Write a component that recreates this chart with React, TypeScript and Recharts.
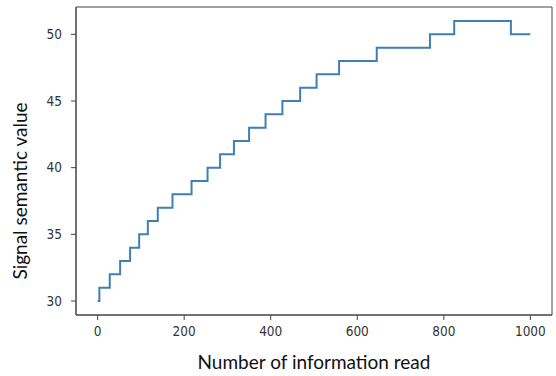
import {
  LineChart,
  Line,
  XAxis,
  YAxis,
  Label,
  ReferenceArea,
} from "recharts";

// step positions (x where the value changes) and values
const stepX = [0, 4, 28, 52, 75, 96, 116, 139, 173, 217, 254, 283, 315, 350, 388, 427, 468, 506, 558, 645, 768, 824, 955, 1000];
const stepY = [30, 31, 32, 33, 34, 35, 36, 37, 38, 39, 40, 41, 42, 43, 44, 45, 46, 47, 48, 49, 50, 51, 50, 50];

const xTicks = [0, 200, 400, 600, 800, 1000];
const yTicks = [30, 35, 40, 45, 50];
const xDomain = [-50, 1050];
const yDomain = [28.95, 52.05];

const data = stepX.map((x, i) => ({ x, value: stepY[i] }));

const axisColor = "#444";
const tickStyle = { fontFamily: "DejaVu Sans Condensed", fontSize: 13.5, fill: "#333" };
const titleStyle = { fontFamily: "Lato", fontSize: 19, fill: "#111" };

function YTitle() {
  const cx = 27;
  const cy = 191;
  return (
    <text
      x={cx}
      y={cy}
      transform={`rotate(-90, ${cx}, ${cy})`}
      textAnchor="middle"
      style={titleStyle}
    >
      Signal semantic value
    </text>
  );
}

export default function App() {
  return (
    <div style={{ position: "absolute", left: 0, top: 0, background: "white" }}>
      <LineChart
        width={556}
        height={376}
        data={data}
        margin={{ top: 7, right: 4, left: 0, bottom: 0 }}
      >
        <XAxis
          dataKey="x"
          type="number"
          domain={xDomain}
          ticks={xTicks}
          allowDataOverflow
          height={61}
          stroke={axisColor}
          tickSize={5}
          tickMargin={6}
          tick={tickStyle}
        >
          <Label
            value="Number of information read"
            position="insideBottom"
            offset={7}
            style={titleStyle}
          />
        </XAxis>
        <YAxis
          type="number"
          domain={yDomain}
          ticks={yTicks}
          allowDataOverflow
          width={76}
          stroke={axisColor}
          tickSize={5}
          tickMargin={9}
          tick={tickStyle}
        >
          <Label content={<YTitle />} />
        </YAxis>
        <ReferenceArea
          x1={xDomain[0]}
          x2={xDomain[1]}
          y1={yDomain[0]}
          y2={yDomain[1]}
          fill="none"
          stroke={axisColor}
          strokeWidth={1}
          ifOverflow="visible"
        />
        <Line
          type="stepAfter"
          dataKey="value"
          stroke="#3f7fb5"
          strokeWidth={2}
          dot={false}
          isAnimationActive={false}
        />
      </LineChart>
    </div>
  );
}
